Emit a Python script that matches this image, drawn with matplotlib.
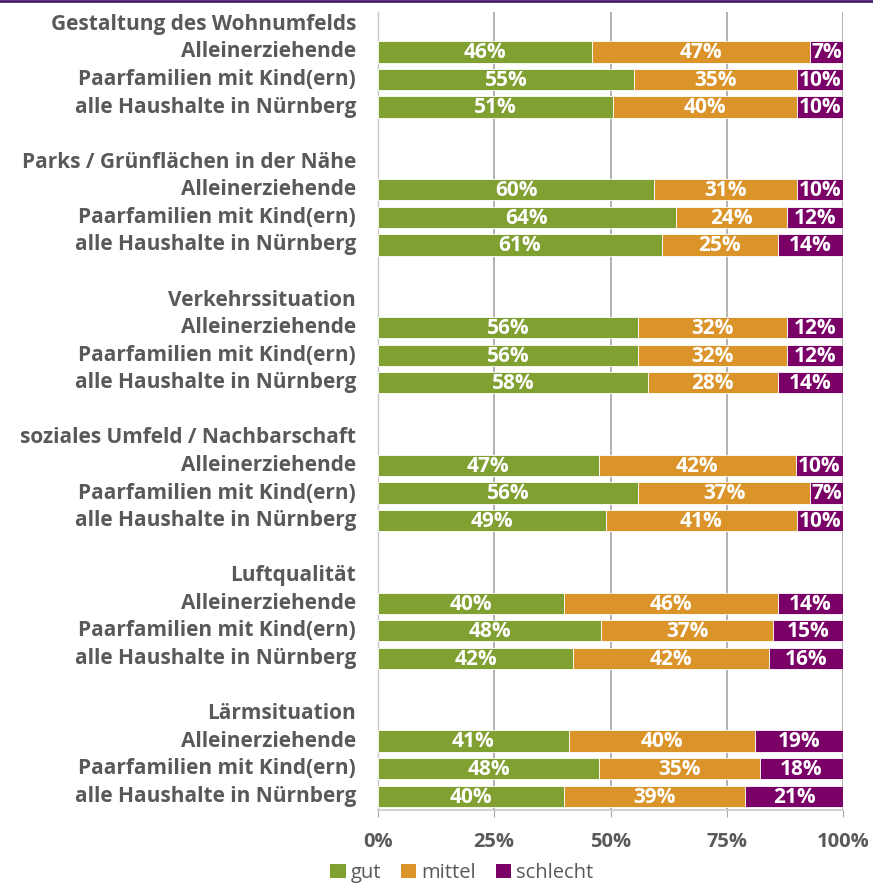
import matplotlib
matplotlib.use("Agg")
import matplotlib.pyplot as plt
from matplotlib.patches import Patch
import numpy as np

groups = ["Gestaltung des Wohnumfelds", "Parks / Grünflächen in der Nähe", "Verkehrssituation",
          "soziales Umfeld / Nachbarschaft", "Luftqualität", "Lärmsituation"]
subgroups = ["Alleinerziehende", "Paarfamilien mit Kind(ern)", "alle Haushalte in Nürnberg"]
series = ["gut", "mittel", "schlecht"]

gut = [46, 55, 51, 60, 64, 61, 56, 56, 58, 47, 56, 49, 40, 48, 42, 41, 48, 40]
mittel = [47, 35, 40, 31, 24, 25, 32, 32, 28, 42, 37, 41, 46, 37, 42, 40, 35, 39]
schlecht = [7, 10, 10, 10, 12, 14, 12, 12, 14, 10, 7, 10, 14, 15, 16, 19, 18, 21]

colors = ["#80a032", "#db942a", "#7a0068"]
label_color = "#595959"
font = "Open Sans"

fig = plt.figure(figsize=(8.73, 8.83), dpi=100)
ax = fig.add_axes([378/873, 1-810/883, (843-378)/873, (810-12)/883])

vals = np.array([gut, mittel, schlecht], dtype=float)
totals = vals.sum(axis=0)
norm = vals / totals * 100

labels = []
ypos = []
r = 0
for gi, g in enumerate(groups):
    labels.append((r, g))
    r += 1
    for si, s in enumerate(subgroups):
        ypos.append(r)
        labels.append((r, s))
        r += 1
    r += 1

ypos = np.array(ypos)
left = np.zeros(len(ypos))
for k in range(3):
    ax.barh(ypos, norm[k], left=left, height=0.77, color=colors[k],
            edgecolor="white", linewidth=0.6, zorder=3)
    for i in range(len(ypos)):
        ax.text(left[i] + norm[k][i]/2, ypos[i] + 0.03, f"{int(vals[k][i])}%", ha="center", va="center",
                color="white", fontsize=15, fontweight="bold", family=font, zorder=4)
    left += norm[k]

ax.set_xlim(0, 100)
ax.set_ylim(28.5, -0.45)
ax.set_xticks([0, 25, 50, 75, 100])
ax.set_xticklabels(["0%", "25%", "50%", "75%", "100%"])
ax.set_yticks([])
for t in ax.get_xticklabels():
    t.set_fontweight("bold"); t.set_fontsize(14.5); t.set_color(label_color); t.set_family(font)
ax.tick_params(axis="x", length=5, color="#a6a6a6", pad=11, direction="out")
ax.grid(axis="x", color="#a6a6a6", linewidth=1.2, zorder=0)
for s in ["top", "right"]:
    ax.spines[s].set_visible(False)
ax.spines["left"].set_color("#c8c8c8")
ax.spines["bottom"].set_color("#c8c8c8")
ax.spines["left"].set_linewidth(1.0)
ax.spines["bottom"].set_linewidth(1.2)

for (yy, txt) in labels:
    ax.text(-4.7, yy, txt, ha="right", va="center", color=label_color, fontsize=15,
            fontweight="bold", family=font, transform=ax.transData, clip_on=False)

handles = [Patch(facecolor=c, edgecolor="none") for c in colors]
fig.legend(handles, series, loc="center", bbox_to_anchor=(462/873, 1-873/883), ncol=3,
           frameon=False, prop={"family": font, "size": 14.5}, labelcolor=label_color,
           handlelength=0.75, handleheight=0.75, handletextpad=0.25, columnspacing=1.0)

fig.add_artist(plt.Line2D([0, 1], [1-1/883, 1-1/883], color="#4b1e6e", linewidth=2,
                          transform=fig.transFigure))

fig.savefig("out.png", dpi=100)
